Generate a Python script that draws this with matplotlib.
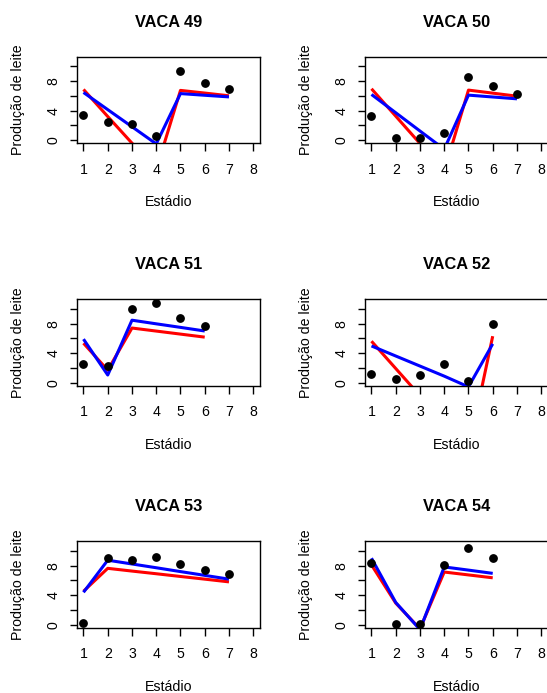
import matplotlib
matplotlib.use("Agg")
import matplotlib.pyplot as plt
import numpy as np

plt.rcParams['font.family'] = ['Liberation Sans', 'DejaVu Sans']

titles = ["VACA 49", "VACA 50", "VACA 51", "VACA 52", "VACA 53", "VACA 54"]
xticks = [1, 2, 3, 4, 5, 6, 7, 8]
yticks = [0, 2, 4, 6, 8, 10]
ylabels_shown = {0: "0", 4: "4", 8: "8"}

obs_49 = [3.36, 2.45, 2.18, 0.5, 9.36, 7.77, 6.86]
red_49 = [6.86, 3.2, -0.4, -4.0, 6.73, 6.37, 6.0]
blue_49 = [6.45, 4.13, 1.82, -0.5, 6.3, 6.07, 5.85]

obs_50 = [3.23, 0.23, 0.32, 1.0, 8.5, 7.27, 6.27]
red_50 = [6.95, 3.25, -0.45, -4.15, 6.77, 6.36, 5.95]
blue_50 = [6.18, 3.71, 1.24, -1.22, 6.09, 5.84, 5.59]

obs_51 = [2.51, 2.33, 9.92, 10.85, 8.73, 7.73]
red_51 = [5.35, 1.7, 7.4, 6.99, 6.58, 6.17]
blue_51 = [5.9, 1.05, 8.46, 7.97, 7.49, 7.0]

obs_52 = [1.19, 0.5, 1.0, 2.6, 0.18, 7.9]
red_52 = [5.62, 1.93, -1.76, -5.45, -9.14, 6.3]
blue_52 = [4.98, 3.62, 2.26, 0.9, -0.55, 5.26]

obs_53 = [0.23, 9.0, 8.73, 9.1, 8.18, 7.36, 6.81]
red_53 = [4.53, 7.63, 7.26, 6.9, 6.53, 6.17, 5.8]
blue_53 = [4.39, 8.73, 8.22, 7.71, 7.19, 6.68, 6.17]

obs_54 = [8.41, 0.09, 0.09, 8.05, 10.42, 9.0]
red_54 = [8.09, 2.93, -0.55, 7.13, 6.74, 6.35]
blue_54 = [9.0, 3.02, -0.65, 7.82, 7.39, 6.95]

obs_all = [obs_49, obs_50, obs_51, obs_52, obs_53, obs_54]
red_all = [red_49, red_50, red_51, red_52, red_53, red_54]
blue_all = [blue_49, blue_50, blue_51, blue_52, blue_53, blue_54]

W, H = 547, 693
fig = plt.figure(figsize=(W / 100, H / 100), dpi=100)

col_left = [76.7, 364.7]
row_top = [56.7, 299.3, 541.3]
bw, bh = 183.3, 86.7

ymax = max(max(o) for o in obs_all)
ypad = 0.04 * ymax
xpad = 0.04 * (xticks[-1] - xticks[0])

fs = 10.2

for i in range(6):
    r, c = divmod(i, 2)
    left = col_left[c] / W
    bottom = 1 - (row_top[r] + bh) / H
    ax = fig.add_axes([left, bottom, bw / W, bh / H])
    x = np.arange(1, len(obs_all[i]) + 1)
    ax.plot(x, red_all[i], color='red', lw=2.2, solid_capstyle='butt', zorder=2)
    ax.plot(x, blue_all[i], color='blue', lw=2.2, solid_capstyle='butt', zorder=3)
    ax.plot(x, obs_all[i], 'o', color='black', ms=5.3, zorder=4)
    ax.set_xlim(xticks[0] - xpad, xticks[-1] + xpad)
    ax.set_ylim(-ypad, ymax + ypad)
    ax.set_xticks(xticks)
    ax.set_xticklabels([str(t) for t in xticks], fontsize=fs)
    ax.set_yticks(yticks)
    ax.set_yticklabels([ylabels_shown.get(t, "") for t in yticks], fontsize=fs,
                       rotation=90, va='center')
    ax.tick_params(axis='both', direction='out', length=5.4, width=1.0, color='black')
    ax.tick_params(axis='x', pad=8.5)
    ax.tick_params(axis='y', pad=6.5)
    for s in ax.spines.values():
        s.set_linewidth(1.0)
        s.set_color('black')
    ax.set_xlabel("Estádio", fontsize=fs, va='center')
    ax.xaxis.set_label_coords(0.5, -59 / bh)
    ax.set_ylabel("Produção de leite", fontsize=fs, va='center')
    ax.yaxis.set_label_coords(-59 / bw, 0.5)
    ax.set_title(titles[i], fontsize=11.8, fontweight='bold', y=1 + 34.5 / bh,
                 va='center', pad=0)

fig.savefig("out.png", dpi=100)
